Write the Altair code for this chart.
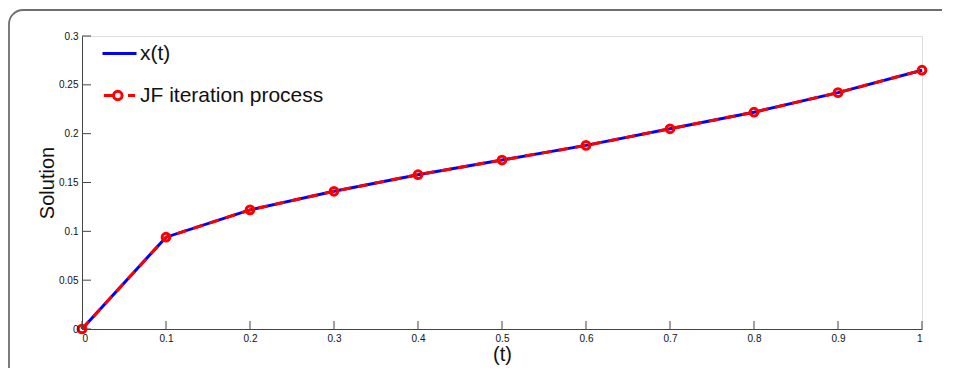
import altair as alt
import pandas as pd

t_vals = [0.0, 0.1, 0.2, 0.3, 0.4, 0.5, 0.6, 0.7, 0.8, 0.9, 1.0]
x_exact = [0.0, 0.094, 0.122, 0.141, 0.158, 0.173, 0.188, 0.205, 0.222, 0.242, 0.265]
jf_iter = [0.0, 0.094, 0.122, 0.141, 0.158, 0.173, 0.188, 0.205, 0.222, 0.242, 0.265]
series_names = ["x(t)", "JF iteration process"]
series_colors = ["#0000ff", "#ff0000"]
x_ticks = [0.0, 0.1, 0.2, 0.3, 0.4, 0.5, 0.6, 0.7, 0.8, 0.9, 1.0]
y_ticks = [0.0, 0.05, 0.1, 0.15, 0.2, 0.25, 0.3]

W, H = 840, 293
FONT = "Liberation Sans"

df_x = pd.DataFrame({"t": t_vals, "v": x_exact, "s": series_names[0]})
df_jf = pd.DataFrame({"t": t_vals, "v": jf_iter, "s": series_names[1]})
df_all = pd.concat([df_x, df_jf], ignore_index=True)
df_xt = pd.DataFrame({"tk": x_ticks})
df_yt = pd.DataFrame({"tk": y_ticks})

xscale = alt.Scale(domain=[0, 1], nice=False, zero=False)
yscale = alt.Scale(domain=[0, 0.3], nice=False)
cscale = alt.Scale(domain=series_names, range=series_colors)

blue_path = "M-1,0H1"
red_path = ("M-0.92,0H-0.42 M0.15,0A0.25,0.25 0 1,1 -0.35,0A0.25,0.25 0 1,1 0.15,0 "
            "M0.5,0H0.92")
sscale = alt.Scale(domain=series_names, range=[blue_path, red_path])

axis_common = dict(ticks=False, grid=False, format="~g", labelFontSize=10,
                   titleFontSize=20, titleFontWeight="normal", domainColor="#444",
                   labelColor="#111", titleColor="#111", labelFont=FONT,
                   titleFont=FONT, zindex=2)
xaxis = alt.Axis(values=x_ticks, title="(t)", labelPadding=4, titlePadding=1, **axis_common)
yaxis = alt.Axis(values=y_ticks, title="Solution", labelPadding=4, titlePadding=1, **axis_common)

frame = alt.Chart(alt.Data(values=[{}])).mark_rect(
    fillOpacity=0, stroke="#6e6e6e", strokeWidth=1.8, cornerRadius=14
).encode(x=alt.value(-73), x2=alt.value(920), y=alt.value(-26), y2=alt.value(420))

legend = alt.Legend(
    title=None, orient="none", legendX=19, legendY=-1, padding=0,
    labelFontSize=21, labelFont=FONT, labelColor="#111", symbolSize=1156,
    symbolStrokeWidth=3, rowPadding=13, labelOffset=2, symbolOpacity=1,
    labelLimit=500,
)

legend_layer = alt.Chart(df_all).transform_filter("datum.v < -1").mark_point(
    filled=False, strokeWidth=3, size=1156, opacity=1
).encode(
    x=alt.X("t:Q", scale=xscale, axis=xaxis),
    y=alt.Y("v:Q", scale=yscale, axis=yaxis),
    color=alt.Color("s:N", scale=cscale, legend=legend),
    shape=alt.Shape("s:N", scale=sscale, legend=legend),
)

line_x = alt.Chart(df_x).mark_line(strokeWidth=3).encode(
    x="t:Q", y="v:Q",
    color=alt.Color("s:N", scale=cscale, legend=None),
)
line_jf = alt.Chart(df_jf).mark_line(strokeWidth=3, strokeDash=[10, 7]).encode(
    x="t:Q", y="v:Q", color=alt.Color("s:N", scale=cscale, legend=None),
)
pts_jf = alt.Chart(df_jf).mark_point(shape="circle", filled=False, size=60, strokeWidth=3, opacity=1).encode(
    x="t:Q", y="v:Q", color=alt.Color("s:N", scale=cscale, legend=None),
)
xt = alt.Chart(df_xt).mark_rule(color="#444", strokeWidth=1).encode(
    x="tk:Q", y=alt.value(H), y2=alt.value(H - 8))
yt = alt.Chart(df_yt).mark_rule(color="#444", strokeWidth=1).encode(
    y="tk:Q", x=alt.value(0), x2=alt.value(9))

chart = alt.layer(frame, legend_layer, xt, yt, line_x, line_jf, pts_jf).properties(
    width=W, height=H,
    autosize=alt.AutoSizeParams(type="none"),
    padding={"left": 74, "top": 28, "right": 20, "bottom": 39},
).configure_view(stroke=None).configure(background="white")

chart.save("out.html", embed_options={"renderer": "svg", "actions": False})
